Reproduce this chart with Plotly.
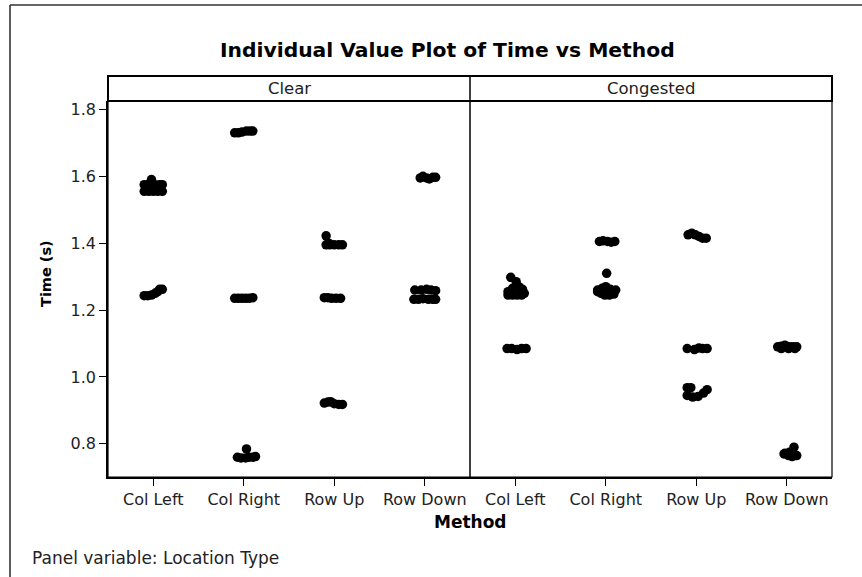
import plotly.graph_objects as go

# ---------------- data ----------------
methods = ["Col Left", "Col Right", "Row Up", "Row Down"]
panels = ["Clear", "Congested"]
y_ticks = [0.8, 1.0, 1.2, 1.4, 1.6, 1.8]

# Time values (s) and horizontal jitter (fraction of category spacing)
clear_col_left = [1.575, 1.575, 1.575, 1.575, 1.575, 1.555, 1.555, 1.555, 1.555, 1.555, 1.590,
                  1.243, 1.243, 1.245, 1.250, 1.255, 1.262, 1.262]
clear_col_left_jit = [-0.10, -0.06, 0.02, 0.07, 0.10, -0.10, -0.05, 0.00, 0.05, 0.10, -0.02,
                      -0.10, -0.06, -0.02, 0.02, 0.05, 0.10, 0.07]

clear_col_right = [1.730, 1.730, 1.732, 1.735, 1.735, 1.735,
                   1.235, 1.235, 1.235, 1.235, 1.235, 1.237,
                   0.760, 0.758, 0.758, 0.760, 0.760, 0.762, 0.785]
clear_col_right_jit = [-0.10, -0.06, -0.02, 0.03, 0.07, 0.10,
                       -0.10, -0.06, -0.02, 0.02, 0.06, 0.10,
                       -0.07, -0.03, 0.02, 0.06, 0.10, 0.13, 0.03]

clear_row_up = [1.422, 1.395, 1.395, 1.395, 1.395, 1.395, 1.400,
                1.237, 1.237, 1.235, 1.235, 1.235,
                0.922, 0.925, 0.926, 0.920, 0.918, 0.918]
clear_row_up_jit = [-0.09, -0.09, -0.05, 0.00, 0.05, 0.09, -0.06,
                    -0.11, -0.07, -0.03, 0.02, 0.07,
                    -0.11, -0.07, -0.04, 0.00, 0.05, 0.09]

clear_row_down = [1.595, 1.600, 1.595, 1.592, 1.597, 1.597,
                  1.260, 1.260, 1.262, 1.260, 1.258,
                  1.232, 1.232, 1.234, 1.232, 1.232, 1.232]
clear_row_down_jit = [-0.05, -0.02, 0.02, 0.05, 0.09, 0.12,
                      -0.11, -0.04, 0.02, 0.07, 0.12,
                      -0.12, -0.07, -0.02, 0.04, 0.09, 0.12]

cong_col_left = [1.298, 1.285, 1.270, 1.265, 1.262, 1.255, 1.245, 1.245, 1.245, 1.245, 1.250,
                 1.085, 1.085, 1.082, 1.085, 1.085]
cong_col_left_jit = [-0.05, 0.01, 0.04, -0.03, 0.08, -0.08, -0.08, -0.03, 0.02, 0.07, 0.10,
                     -0.09, -0.04, 0.02, 0.07, 0.12]

cong_col_right = [1.405, 1.407, 1.405, 1.403, 1.405,
                  1.310, 1.270, 1.265, 1.262, 1.260, 1.255, 1.250, 1.245, 1.245, 1.248, 1.260]
cong_col_right_jit = [-0.07, -0.03, 0.02, 0.06, 0.10,
                      0.01, 0.00, -0.04, 0.05, 0.11, -0.09, -0.05, -0.01, 0.04, 0.09, -0.09]

cong_row_up = [1.425, 1.430, 1.425, 1.420, 1.415, 1.415,
               1.085, 1.082, 1.087, 1.085, 1.085,
               0.968, 0.968, 0.945, 0.940, 0.942, 0.952, 0.962]
cong_row_up_jit = [-0.09, -0.05, -0.01, 0.03, 0.07, 0.11,
                   -0.10, -0.02, 0.03, 0.07, 0.12,
                   -0.10, -0.06, -0.10, -0.04, 0.02, 0.08, 0.12]

cong_row_down = [1.090, 1.092, 1.095, 1.090, 1.090, 1.090, 1.085, 1.085, 1.085,
                 0.790, 0.775, 0.772, 0.770, 0.765, 0.765, 0.762]
cong_row_down_jit = [-0.10, -0.06, -0.02, 0.03, 0.07, 0.11, -0.06, 0.02, 0.09,
                     0.08, 0.03, -0.02, -0.03, 0.02, 0.11, 0.06]

clear_series = [(clear_col_left, clear_col_left_jit), (clear_col_right, clear_col_right_jit),
                (clear_row_up, clear_row_up_jit), (clear_row_down, clear_row_down_jit)]
cong_series = [(cong_col_left, cong_col_left_jit), (cong_col_right, cong_col_right_jit),
               (cong_row_up, cong_row_up_jit), (cong_row_down, cong_row_down_jit)]

# ---------------- figure ----------------
FONT = "DejaVu Sans"
W, H = 862, 577
ML, MR, MT, MB = 108, 30, 101, 100
PW, PH = W - ML - MR, H - MT - MB


def px_x(px):
    return (px - ML) / PW


def px_y(py):
    return (H - MB - py) / PH


fig = go.Figure()
for axis_suffix, series in (("", clear_series), ("2", cong_series)):
    for i, (vals, jit) in enumerate(series):
        fig.add_trace(go.Scatter(
            x=[i + j for j in jit], y=vals, mode="markers",
            marker=dict(size=9.5, color="black", line=dict(width=0)),
            xaxis="x" + axis_suffix, yaxis="y" + axis_suffix,
            showlegend=False, hoverinfo="y"))

axis_common = dict(range=[-0.5, 3.5], tickvals=list(range(len(methods))), ticktext=methods,
                   ticks="outside", ticklen=7, tickwidth=1, tickcolor="black",
                   showline=True, linecolor="black", linewidth=1.5, showgrid=False,
                   zeroline=False, tickfont=dict(family=FONT, size=16, color="#222"),
                   fixedrange=True)
y_range = [0.701, 1.825]

fig.update_layout(
    width=W, height=H, autosize=False,
    margin=dict(l=ML, r=MR, t=MT, b=MB, pad=0),
    paper_bgcolor="white", plot_bgcolor="white",
    xaxis=dict(domain=[0, 0.5], anchor="y", **axis_common),
    xaxis2=dict(domain=[0.5, 1], anchor="y2", **axis_common),
    yaxis=dict(domain=[0, 1], anchor="x", range=y_range, tickvals=y_ticks,
               ticktext=[f"{v:.1f}" for v in y_ticks],
               ticks="outside", ticklen=7, tickwidth=1, tickcolor="black",
               showline=True, linecolor="black", linewidth=1.5, showgrid=False,
               zeroline=False, tickfont=dict(family=FONT, size=16, color="#222"),
               fixedrange=True),
    yaxis2=dict(domain=[0, 1], anchor="x2", range=y_range, showticklabels=False,
                ticks="", showline=False, showgrid=False, zeroline=False, fixedrange=True),
)

strip_top = px_y(76)
shapes = [
    # plot frame
    dict(type="rect", xref="paper", yref="paper", x0=0, x1=1, y0=0, y1=1,
         line=dict(color="black", width=1.2)),
    # panel divider through strip
    dict(type="line", xref="paper", yref="paper", x0=0.5, x1=0.5, y0=0, y1=strip_top,
         line=dict(color="black", width=1.5)),
    # strip box
    dict(type="rect", xref="paper", yref="paper", x0=0, x1=1, y0=1, y1=strip_top,
         line=dict(color="black", width=2)),
    # outer frame (top and left edges)
    dict(type="line", xref="paper", yref="paper", x0=px_x(10), x1=px_x(880),
         y0=px_y(5), y1=px_y(5), line=dict(color="#333", width=1.6)),
    dict(type="line", xref="paper", yref="paper", x0=px_x(10), x1=px_x(10),
         y0=px_y(5), y1=px_y(600), line=dict(color="#333", width=1.6)),
]
fig.update_layout(shapes=shapes)

annotations = [
    dict(text="<b>Individual Value Plot of Time vs Method</b>", x=px_x(447), y=px_y(50),
         font=dict(family=FONT, size=20.3, color="black")),
    dict(text=panels[0], x=0.25, y=px_y(88.5), font=dict(family=FONT, size=16.5, color="#222")),
    dict(text=panels[1], x=0.75, y=px_y(88.5), font=dict(family=FONT, size=16.5, color="#222")),
    dict(text="<b>Time (s)</b>", x=px_x(46), y=px_y(274), textangle=-90,
         font=dict(family=FONT, size=14.5, color="black")),
    dict(text="<b>Method</b>", x=0.5, y=px_y(522),
         font=dict(family=FONT, size=17, color="black")),
    dict(text="Panel variable: Location Type", x=px_x(30), y=px_y(558), xanchor="left",
         font=dict(family=FONT, size=17, color="#222")),
]
for a in annotations:
    a.setdefault("xanchor", "center")
    a.update(xref="paper", yref="paper", yanchor="middle", showarrow=False)
fig.update_layout(annotations=annotations)

fig.write_html("out.html", config={"displayModeBar": False},
               post_script="document.body.style.margin='0';document.body.style.overflow='hidden';")
